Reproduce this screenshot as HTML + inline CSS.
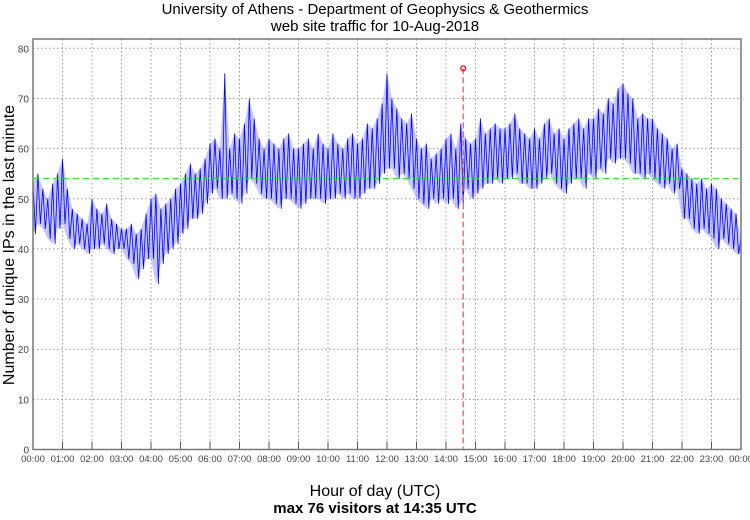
<!DOCTYPE html>
<html><head><meta charset="utf-8"><style>
body{margin:0;background:#fff;width:750px;height:515px;overflow:hidden}
svg{font-family:"Liberation Sans",sans-serif}
</style></head><body>
<svg id="chart" width="750" height="515">
<text x="375" y="14" text-anchor="middle" font-size="15">University of Athens - Department of Geophysics &amp; Geothermics</text>
<text x="375" y="31" text-anchor="middle" font-size="15">web site traffic for 10-Aug-2018</text>
<text x="375" y="496" text-anchor="middle" font-size="16">Hour of day (UTC)</text>
<text x="375" y="513" text-anchor="middle" font-size="15" font-weight="bold">max 76 visitors at 14:35 UTC</text>
<text transform="translate(14,245) rotate(-90)" text-anchor="middle" font-size="16">Number of unique IPs in the last minute</text>
<g id="grid"></g><g id="band"></g><g id="series"></g><g id="overlay"></g><g id="axes"></g>
</svg>
<script>
const yTicks=[0,10,20,30,40,50,60,70,80];
const xTickLabels=["00:00","01:00","02:00","03:00","04:00","05:00","06:00","07:00","08:00","09:00","10:00","11:00","12:00","13:00","14:00","15:00","16:00","17:00","18:00","19:00","20:00","21:00","22:00","23:00","00:00"];
// 10-minute envelope values (upper / lower)
const hiVals=[53,55,52,50,53,55, 58,52,48,47,46,45, 50,48,47,49,46,45, 44,44,45,43,44,47, 50,51,48,49,50,52, 53,55,57,55,56,58, 61,62,60,75,60,63, 62,65,70,66,62,60, 62,61,60,62,63,60, 60,61,62,60,63,61, 60,63,61,60,62,63, 61,62,65,64,66,69, 75,70,68,66,65,67, 62,60,61,58,59,60, 62,63,60,65,62,61, 62,66,63,64,65,64, 64,65,67,64,63,62, 64,62,65,66,63,64, 62,64,65,66,64,66, 66,68,67,70,69,72, 73,71,70,66,67,66, 66,64,63,62,60,61, 56,55,54,53,54,52, 53,52,50,49,48,47,42];
const loVals=[43,45,44,42,41,44, 45,42,40,41,40,39, 40,40,41,40,39,40, 40,38,37,34,36,38, 38,33,37,39,40,41, 43,44,46,46,47,49, 51,52,50,50,51,50, 49,51,54,53,51,50, 50,49,48,50,50,49, 48,49,50,50,50,49, 50,50,51,50,51,50, 50,51,52,52,53,55, 56,56,54,55,54,52, 50,49,48,50,49,50, 49,50,48,49,52,50, 51,52,53,53,54,53, 54,54,55,53,53,52, 52,53,54,55,53,52, 51,53,54,54,52,55, 54,56,55,58,57,58, 58,57,55,55,54,55, 54,53,52,53,51,52, 46,46,44,43,44,43, 42,40,42,41,40,39,39];
const meanVal=[54];
const maxMinute=[875];const maxVal=[76];
const NS="http://www.w3.org/2000/svg";
const L=33,R=741,T=39,B=449.5;
const xs=m=>L+m/1440*(R-L);
const ys=v=>B-v/80*(B-48.3);
function mk(t,a,p){const e=document.createElementNS(NS,t);for(const k in a)e.setAttribute(k,a[k]);document.getElementById(p).appendChild(e);return e;}
yTicks.forEach(v=>{
 if(v>0){const g=mk('line',{x1:L,x2:R,y1:ys(v),y2:ys(v),stroke:'#999','stroke-dasharray':'1.5,2.5'},'grid');
 
 }
 const t=mk('text',{x:L-4,y:ys(v)+4,'text-anchor':'end','font-size':10,fill:'#444'},'axes');t.textContent=v;
 
 
});
xTickLabels.forEach((s,i)=>{
 const x=xs(i*60);
 if(i>0&&i<24){const g=mk('line',{x1:x,x2:x,y1:T,y2:B,stroke:'#999','stroke-dasharray':'1.5,2.5'},'grid');
 
 
 mk('line',{x1:x,x2:x,y1:B,y2:B-8,stroke:'#555'},'axes');}
 const t=mk('text',{x:x,y:462,'text-anchor':'middle','font-size':9.5,fill:'#444'},'axes');t.textContent=s;
 
 
});
const fr=mk('rect',{x:L,y:T,width:R-L,height:B-T,fill:'none',stroke:'#777','stroke-width':1.5},'axes');


let up=hiVals.map((v,i)=>xs(i*10)+','+ys(v)).join(' ');
let dn=loVals.map((v,i)=>xs(i*10)+','+ys(v)).reverse().join(' ');
const band=mk('polygon',{points:up+' '+dn,fill:'#8080ff','fill-opacity':0.45},'band');


let pts=[];hiVals.forEach((v,i)=>{pts.push(xs(i*10)+','+ys(v));if(i<loVals.length-1)pts.push(xs(i*10+5)+','+ys(loVals[i]));});
const ln=mk('polyline',{points:pts.join(' '),fill:'none',stroke:'#0000ff','stroke-width':0.8},'series');


const mn=mk('line',{x1:L,x2:R,y1:ys(meanVal[0]),y2:ys(meanVal[0]),stroke:'#22dd22','stroke-width':1.2,'stroke-dasharray':'6,4'},'overlay');


const mx=mk('line',{x1:xs(maxMinute[0]),x2:xs(maxMinute[0]),y1:ys(maxVal[0]),y2:B,stroke:'#f05050','stroke-width':1.2,'stroke-dasharray':'6,3'},'overlay');


const c=mk('circle',{cx:xs(maxMinute[0]),cy:ys(maxVal[0]),r:2.5,fill:'none',stroke:'#e00','stroke-width':1.2},'overlay');


</script>
</body></html>
